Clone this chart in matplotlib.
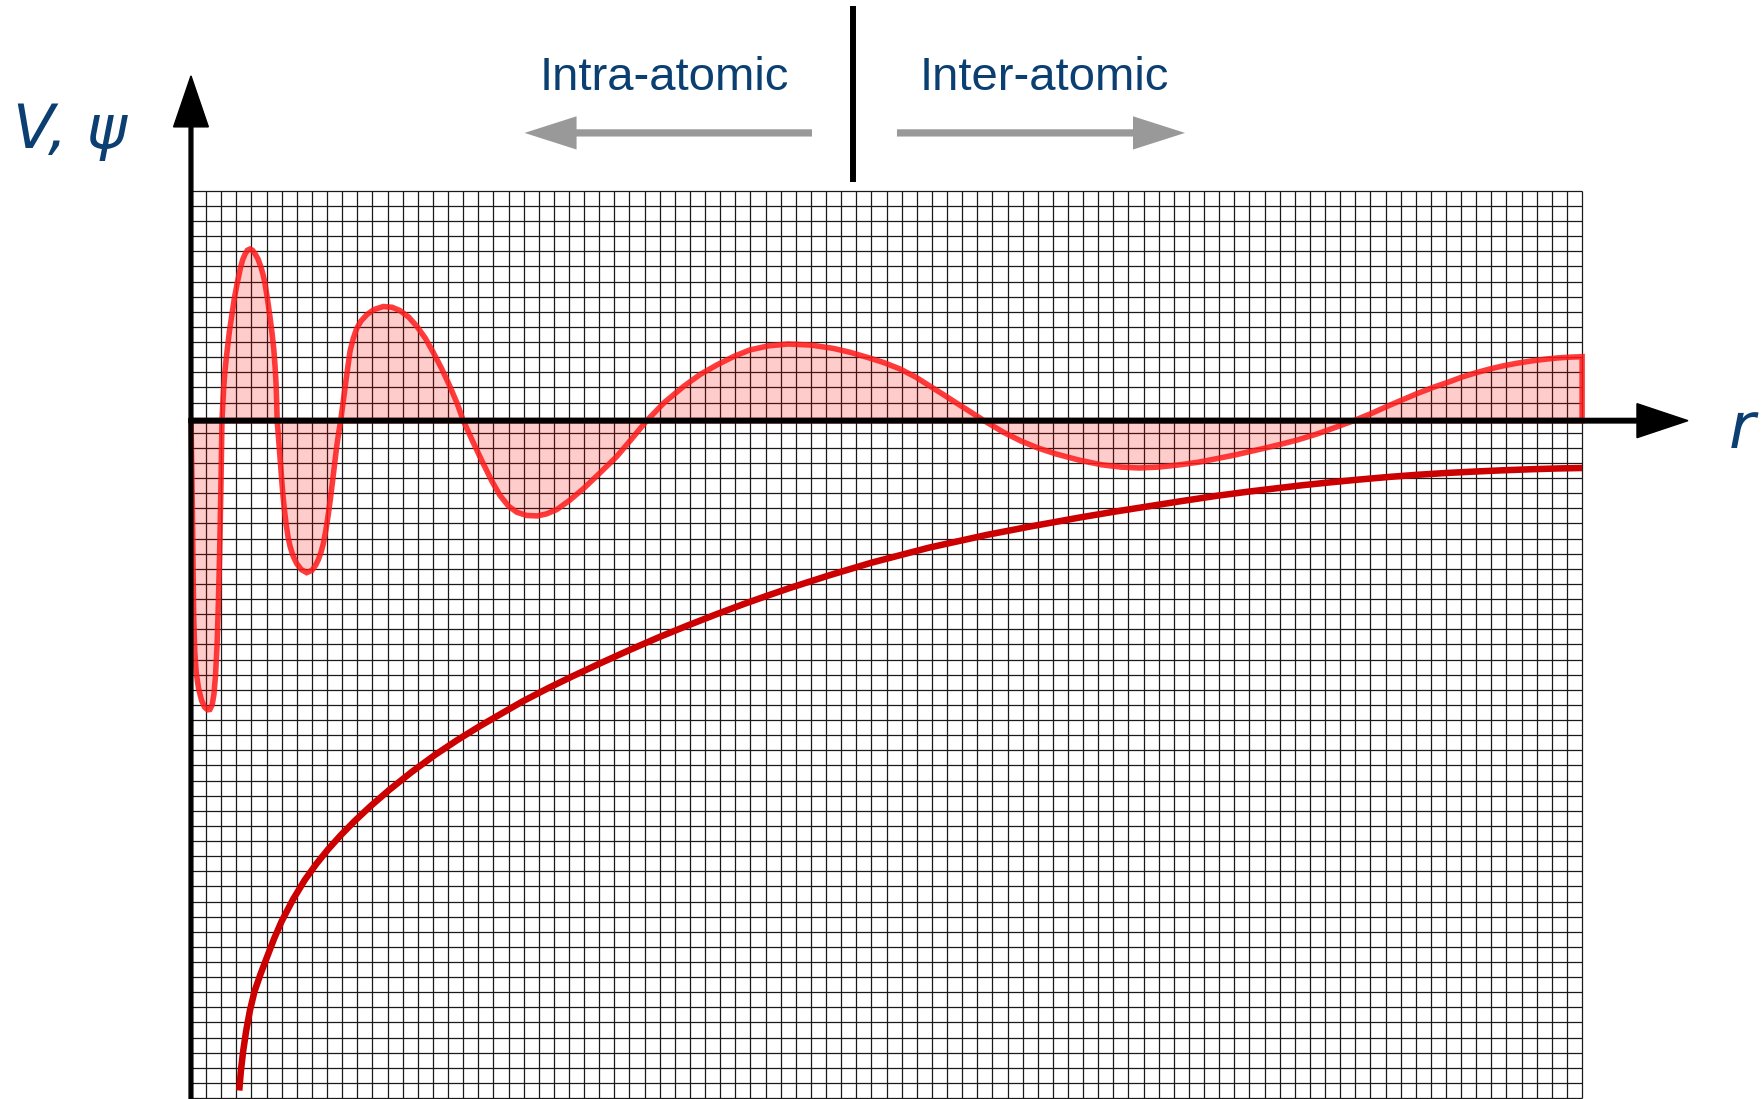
import matplotlib
matplotlib.use("Agg")
import matplotlib.pyplot as plt
import numpy as np

# everything is in grid units: one cell of the graph paper = 1
# r axis sits at y = 0, the V axis at x = 0
n_cols = 92
n_rows = 60
grid_top = 15.2

# wavefunction psi(r)
psi_r = [0, 0.05, 0.1, 0.14, 0.18, 0.25, 0.35, 0.5, 0.7, 0.9, 1.1, 1.25, 1.4, 1.52,
         1.62, 1.72, 1.8, 1.87, 1.93, 1.99,
         2.05, 2.1, 2.16, 2.24, 2.32, 2.40, 2.54, 2.69, 2.87, 3.06, 3.28, 3.42, 3.57,
         3.73, 3.9, 4.07, 4.23, 4.43, 4.63, 4.77, 4.89, 5.05, 5.22, 5.36, 5.48, 5.56,
         5.63, 5.67,
         5.7, 5.77, 5.84, 5.92, 6.0, 6.09, 6.19, 6.3, 6.42, 6.55, 6.75, 6.99, 7.3, 7.65,
         8.0, 8.25, 8.42, 8.6, 8.75, 8.92, 9.08, 9.23, 9.37, 9.5, 9.64, 9.77,
         9.9, 10.0, 10.12, 10.25, 10.38, 10.52, 10.72, 10.96, 11.25, 11.62, 12.1, 12.72,
         13.3, 13.82, 14.4, 14.93, 15.5, 16.03, 16.6, 17.13, 17.6,
         18.01, 18.6, 19.33, 19.9, 20.44, 21.0, 21.54, 22.2, 22.9, 23.5, 24.19, 25.0,
         25.95, 27.0, 28.15, 29.15,
         30.14, 31.3, 32.56, 33.66, 34.77, 35.9, 36.97, 38.2, 39.5, 41.0, 42.48, 43.6,
         44.69, 45.8, 46.89, 47.9, 48.85, 49.8, 50.7, 51.6,
         52.45, 53.7, 54.9, 56.0, 57.2, 58.7, 60.24, 61.5, 62.7, 64.0, 65.3, 66.6, 67.8,
         69.0, 70.0, 71.0, 72.0, 73.2, 74.5, 75.7,
         76.9, 78.0, 79.0, 80.0, 81.13, 82.2, 83.3, 84.1, 84.92, 85.9, 86.8, 87.7,
         88.72, 89.6, 90.4, 91.2, 92.0]
psi = [0, -3, -6.5, -10, -13, -15.3, -16.7, -17.7, -18.5, -18.95, -19.12, -19.1, -18.8,
       -18.1, -16.9, -15.0, -12.5, -9.8, -7.0, -3.8,
       0, 1.0, 2.1, 3.2, 4.0, 4.7, 5.9, 6.9, 8.1, 9.1, 10.15, 10.65, 11.0,
       11.27, 11.35, 11.27, 11.05, 10.7, 10.15, 9.65, 9.1, 8.1, 6.9, 5.8, 4.7, 3.6,
       2.4, 1.2,
       0, -0.9, -1.8, -2.85, -3.9, -5.0, -6.0, -6.9, -7.7, -8.3, -8.95, -9.45, -9.85,
       -10.05, -9.9, -9.55, -9.2, -8.7, -8.15, -7.25, -6.2, -5.1, -3.95, -2.85, -1.7,
       -0.8,
       0, 0.75, 1.65, 2.65, 3.6, 4.6, 5.4, 6.1, 6.6, 7.0, 7.35, 7.55,
       7.5, 7.28, 6.85, 6.25, 5.45, 4.5, 3.4, 2.25, 1.15,
       0, -1.3, -2.85, -4.0, -4.95, -5.65, -6.05, -6.27, -6.3, -6.17, -5.88, -5.3,
       -4.5, -3.5, -2.38, -1.2,
       0, 1.2, 2.25, 3.05, 3.68, 4.25, 4.68, 4.95, 5.07, 5.0, 4.78, 4.52,
       4.2, 3.85, 3.42, 2.9, 2.3, 1.7, 1.12, 0.55,
       0, -0.75, -1.35, -1.8, -2.2, -2.6, -2.92, -3.07, -3.13, -3.07, -2.93, -2.75,
       -2.52, -2.28, -2.05, -1.82, -1.58, -1.27, -0.87, -0.44,
       0, 0.45, 0.9, 1.33, 1.81, 2.22, 2.6, 2.9, 3.15, 3.42, 3.63, 3.8,
       3.96, 4.07, 4.15, 4.2, 4.23]

# Coulomb-like potential V(r)
V_r = [3.19, 3.3, 3.45, 3.65, 3.9, 4.2, 4.6, 5.0, 5.5, 6.0, 6.75, 7.53, 8.3, 9.05, 9.9,
       10.82, 11.9, 13.1, 14.6, 16.13, 17.6, 19.17, 20.5, 21.96, 23.6, 25.24, 27.1,
       29.04, 31.0, 32.84, 34.7, 36.63, 38.1, 39.62, 42.3, 45.05, 48.8, 52.65, 55.5,
       58.8, 61.0, 63.28, 65.5, 67.83, 69.8, 71.63, 73.5, 75.43, 77.3, 79.23, 81.1,
       83.02, 85.0, 86.82, 88.7, 90.4, 92.0]
V = [-44.3, -43.0, -41.7, -40.35, -39.0, -37.75, -36.6, -35.55, -34.25, -33.1, -31.66,
     -30.37, -29.3, -28.37, -27.42, -26.48, -25.47, -24.43, -23.23, -22.11, -21.13,
     -20.16, -19.39, -18.55, -17.7, -16.9, -16.03, -15.15, -14.3, -13.55, -12.82, -12.1,
     -11.58, -11.06, -10.2, -9.38, -8.4, -7.55, -7.0, -6.4, -6.03, -5.67, -5.32, -4.97,
     -4.71, -4.49, -4.27, -4.07, -3.89, -3.72, -3.58, -3.46, -3.36, -3.28, -3.21,
     -3.16, -3.13]

blue = '#0b3f72'
grey = '#999999'

fig = plt.figure(figsize=(17.64, 10.99), dpi=100)
ax = fig.add_axes([0, 0, 1, 1])
ax.set_xlim(-12.63, 104.03)
ax.set_ylim(-44.86, 27.82)
ax.axis('off')

# graph paper
bottom = grid_top - n_rows
ax.vlines(np.arange(n_cols + 1), bottom, grid_top, color='#1a1a1a', lw=0.9, zorder=1)
ax.hlines(grid_top - np.arange(n_rows + 1), 0, n_cols, color='#1a1a1a', lw=0.9, zorder=1)

# psi, filled against the r axis
ax.fill(np.r_[psi_r, psi_r[-1]], np.r_[psi, 0], facecolor=(1, 0, 0, 0.2),
        edgecolor=(1, 0.1, 0.1, 0.85), lw=4.0, zorder=2)

# V
ax.plot(V_r, V, color='#cc0000', lw=4.7, solid_capstyle='butt', zorder=3)

# axes with arrow heads
ax.arrow(0, -44.86, 0, 44.86 + 22.8, width=0.25, head_width=2.3, head_length=3.37,
         length_includes_head=True, color='black', zorder=5)
ax.arrow(-0.13, 0, 99.13, 0, width=0.3, head_width=2.25, head_length=3.37,
         length_includes_head=True, color='black', zorder=5)

ax.text(-11.8, 18.0, r'V, ψ', fontsize=44, color=blue, style='italic',
        family='DejaVu Sans', ha='left', va='baseline')
ax.text(101.7, -1.83, 'r', fontsize=46, color=blue, style='italic',
        family='DejaVu Sans', ha='left', va='baseline')

# intra / inter divider
ax.plot([43.78, 43.78], [15.79, 27.43], color='black', lw=4.3, solid_capstyle='butt')
ax.text(31.28, 21.87, 'Intra-atomic', fontsize=34, color=blue,
        family='Liberation Sans', ha='center', va='baseline')
ax.text(56.46, 21.87, 'Inter-atomic', fontsize=34, color=blue,
        family='Liberation Sans', ha='center', va='baseline')
ax.arrow(41.07, 19.03, 22.06 - 41.07, 0, width=0.48, head_width=2.2, head_length=3.44,
         length_includes_head=True, color=grey, lw=0)
ax.arrow(46.69, 19.03, 65.74 - 46.69, 0, width=0.48, head_width=2.2, head_length=3.44,
         length_includes_head=True, color=grey, lw=0)

fig.savefig('out.png', dpi=100)
